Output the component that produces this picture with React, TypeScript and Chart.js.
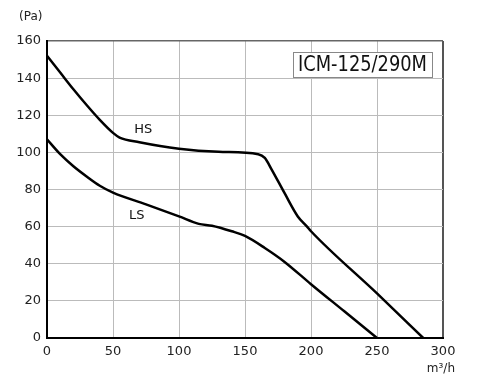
import React, { useEffect, useRef } from "react";
import { Chart, registerables } from "chart.js";

Chart.register(...registerables);

const hsFlow = [0, 10, 20, 30, 40, 50, 55, 70, 100, 130, 160, 165, 170, 180, 190, 197, 200, 250, 285];
const hsPressure = [152, 143, 134, 125.5, 117.5, 110.5, 108, 105.5, 102, 100.3, 99, 97, 91, 78, 65.5, 60, 57.5, 24, 0];
const lsFlow = [0, 10, 20, 30, 40, 50, 75, 100, 115, 125, 140, 150, 165, 180, 200, 225, 250];
const lsPressure = [107, 99, 92.5, 87, 82, 78.3, 72, 65.5, 61.5, 60.5, 57.5, 55, 48.5, 41, 29, 14.5, 0];
const xTicks = [0, 50, 100, 150, 200, 250, 300];
const yTicks = [0, 20, 40, 60, 80, 100, 120, 140, 160];
const modelName = "ICM-125/290M";
const yUnit = "(Pa)";
const xUnit = "m³/h";
const curveLabels = [
  { text: "HS", x: 73, y: 112 },
  { text: "LS", x: 68, y: 66 },
];

const FONT = "'DejaVu Sans', sans-serif";

const overlay = {
  id: "overlay",
  afterDraw(chart: any) {
    const { ctx, scales } = chart;
    const xs = scales.x;
    const ys = scales.y;
    ctx.save();
    ctx.fillStyle = "#111";
    ctx.font = `13px ${FONT}`;
    ctx.textAlign = "center";
    ctx.textBaseline = "middle";
    curveLabels.forEach((l) => {
      ctx.fillText(l.text, xs.getPixelForValue(l.x), ys.getPixelForValue(l.y));
    });
    ctx.fillStyle = "#222";
    ctx.font = `12px ${FONT}`;
    ctx.textAlign = "left";
    ctx.fillText(yUnit, 19, 17);
    ctx.textAlign = "right";
    ctx.fillText(xUnit, 455, 369);
    const bx = 293, by = 52, bw = 139, bh = 25;
    ctx.fillStyle = "#fff";
    ctx.fillRect(bx, by, bw, bh);
    ctx.strokeStyle = "#888";
    ctx.lineWidth = 1;
    ctx.strokeRect(bx + 0.5, by + 0.5, bw, bh);
    ctx.fillStyle = "#111";
    ctx.font = `21px ${FONT}`;
    const w = ctx.measureText(modelName).width;
    const target = 129;
    ctx.translate(bx + bw / 2, by + bh / 2 + 1);
    ctx.scale(target / w, 1);
    ctx.textAlign = "center";
    ctx.textBaseline = "middle";
    ctx.fillText(modelName, 0, 0);
    ctx.restore();
  },
};

export default function App() {
  const ref = useRef<HTMLCanvasElement>(null);
  useEffect(() => {
    const hsData = hsFlow.map((x, i) => ({ x, y: hsPressure[i] }));
    const lsData = lsFlow.map((x, i) => ({ x, y: lsPressure[i] }));
    const chart = new Chart(ref.current!, {
      type: "line",
      data: {
        datasets: [
          {
            label: "HS",
            data: hsData,
            borderColor: "#000",
            borderWidth: 2.5,
            pointRadius: 0,
            cubicInterpolationMode: "monotone",
            fill: false,
          },
          {
            label: "LS",
            data: lsData,
            borderColor: "#000",
            borderWidth: 2.5,
            pointRadius: 0,
            cubicInterpolationMode: "monotone",
            fill: false,
          },
        ],
      },
      options: {
        animation: false,
        responsive: false,
        maintainAspectRatio: false,
        layout: { padding: { top: 41, right: 46, left: 0, bottom: 0 } },
        plugins: { legend: { display: false }, tooltip: { enabled: false } },
        scales: {
          x: {
            type: "linear",
            min: 0,
            max: 300,
            afterBuildTicks: (s: any) => {
              s.ticks = xTicks.map((v) => ({ value: v }));
            },
            afterFit: (s: any) => {
              s.height = 53;
            },
            grid: {
              color: (c: any) => (c.tick && c.tick.value === 300 ? "#555" : "#bbb"),
              lineWidth: (c: any) => (c.tick && c.tick.value === 300 ? 2 : 1),
              drawTicks: false,
            },
            border: { color: "#000", width: 2 },
            ticks: {
              color: "#222",
              font: { family: FONT, size: 13 },
              padding: 6,
              maxRotation: 0,
            },
          },
          y: {
            type: "linear",
            min: 0,
            max: 160,
            afterBuildTicks: (s: any) => {
              s.ticks = yTicks.map((v) => ({ value: v }));
            },
            afterFit: (s: any) => {
              s.width = 47;
            },
            grid: {
              color: (c: any) => (c.tick && c.tick.value === 160 ? "#666" : "#bbb"),
              lineWidth: (c: any) => (c.tick && c.tick.value === 160 ? 1.5 : 1),
              drawTicks: false,
            },
            border: { color: "#000", width: 2 },
            ticks: {
              color: "#222",
              font: { family: FONT, size: 13 },
              padding: 6,
            },
          },
        },
      },
      plugins: [overlay],
    });
    return () => chart.destroy();
  }, []);
  return (
    <div style={{ position: "fixed", left: 0, top: 0, width: 489, height: 391, background: "#fff" }}>
      <canvas ref={ref} width={489} height={391} style={{ display: "block" }} />
    </div>
  );
}
